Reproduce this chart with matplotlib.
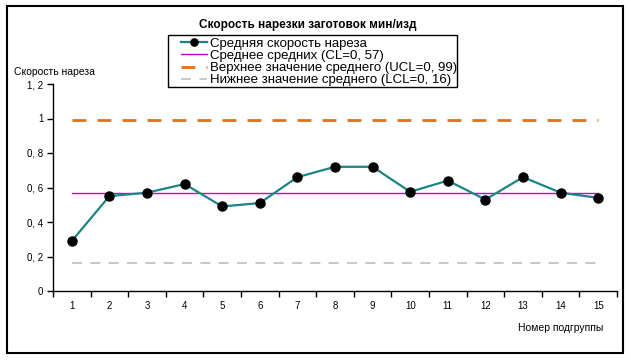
import matplotlib
matplotlib.use("Agg")
import matplotlib.pyplot as plt
from matplotlib.patches import Rectangle

plt.rcParams['font.family'] = ['Liberation Sans', 'DejaVu Sans']

groups = list(range(1, 16))
speed = [0.29, 0.55, 0.57, 0.62, 0.49, 0.51, 0.66, 0.72, 0.72, 0.575, 0.64, 0.53, 0.66, 0.57, 0.54]
cl = 0.57
ucl = 0.99
lcl = 0.16
yticks = [0, 0.2, 0.4, 0.6, 0.8, 1.0, 1.2]
ylabels = ["0", "0, 2", "0, 4", "0, 6", "0, 8", "1", "1, 2"]
names = ["Средняя скорость нареза", "Среднее средних (CL=0, 57)",
         "Верхнее значение среднего (UCL=0, 99)",
         "Нижнее значение среднего (LCL=0, 16)"]

W, H = 631, 360
fig = plt.figure(figsize=(W / 100, H / 100), dpi=100)
ax = fig.add_axes([53 / W, (H - 291) / H, (617 - 53) / W, (291 - 84) / H])

l1, = ax.plot(groups, speed, color="#1b8585", lw=1.6, marker="o", ms=6.5,
              mfc="black", mec="black", zorder=5)
l2, = ax.plot([groups[0], groups[-1]], [cl, cl], color="#cc00cc", lw=1.0)
l3, = ax.plot([groups[0], groups[-1]], [ucl, ucl], color="#e0701a", lw=2.0,
              dashes=(5, 4))
l4, = ax.plot([groups[0], groups[-1]], [lcl, lcl], color="#bdbdbd", lw=1.2,
              dashes=(6, 5))

ax.set_xlim(0.5, 15.5)
ax.set_ylim(0, 1.2)
ax.set_xticks(groups)
ax.set_xticklabels([str(g) for g in groups], fontsize=7)
ax.set_xticks([g + 0.5 for g in range(0, 16)], minor=True)
ax.tick_params(axis="x", which="major", length=0, pad=7)
ax.tick_params(axis="x", which="minor", length=4, width=1, direction="out")
ax.set_yticks(yticks)
ax.set_yticklabels(ylabels, fontsize=7)
ax.tick_params(axis="y", length=4, width=1, pad=3)
for s in ["top", "right"]:
    ax.spines[s].set_visible(False)
for s in ["left", "bottom"]:
    ax.spines[s].set_linewidth(1.0)

fig.text(14 / W, 1 - 72 / H, "Скорость нареза", fontsize=7.5, va="center", ha="left")
fig.text(603 / W, 1 - 328 / H, "Номер подгруппы", fontsize=7.5, va="center", ha="right")
fig.text(308 / W, 1 - 25 / H, "Скорость нарезки заготовок мин/изд", fontsize=8.5,
         fontweight="bold", ha="center", va="center")

# legend without its own frame, frame drawn separately and texts clipped to it
box = Rectangle((168 / W, 1 - 87 / H), (457 - 168) / W, (87 - 35) / H,
                transform=fig.transFigure, fill=False, ec="black", lw=1.0)
fig.patches.append(box)
leg = fig.legend([l1, l2, l3, l4], names,
                 loc="upper left", bbox_to_anchor=(181 / W, 1 - 37.5 / H),
                 fontsize=9.5, frameon=False, handlelength=2.0,
                 handletextpad=0.2, borderpad=0.0, labelspacing=0.0,
                 borderaxespad=0, markerscale=0.8)
for t in leg.get_texts():
    t.set_clip_path(box)

fig.patches.append(Rectangle((6.5 / W, 1 - 352.5 / H), (622.5 - 6.5) / W, (352.5 - 6) / H,
                             transform=fig.transFigure, fill=False, ec="black", lw=1.5))

fig.savefig("out.png", dpi=100)
